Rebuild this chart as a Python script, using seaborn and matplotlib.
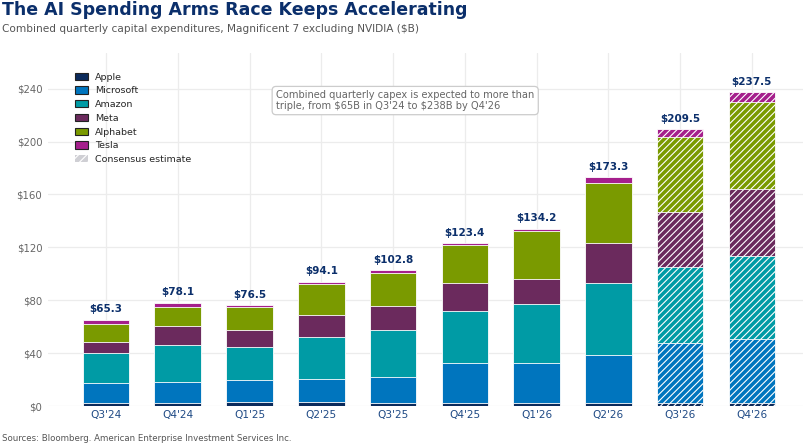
import numpy as np
import pandas as pd
import matplotlib
matplotlib.use('Agg')
import matplotlib.pyplot as plt
from matplotlib.patches import Patch
from matplotlib.ticker import FuncFormatter
import seaborn as sns

# Quarterly capex by company ($B)
quarters = ["Q3'24", "Q4'24", "Q1'25", "Q2'25", "Q3'25",
            "Q4'25", "Q1'26", "Q2'26", "Q3'26", "Q4'26"]
apple = [2.3, 2.5, 2.8, 3.3, 2.5, 2.0, 2.0, 2.0, 2.5, 2.5]
microsoft = [15.4, 15.4, 16.6, 16.9, 19.7, 30.3, 30.6, 36.4, 45.4, 48.5]
amazon = [22.2, 28.0, 25.3, 31.8, 35.3, 39.6, 44.9, 54.5, 57.1, 62.6]
meta = [8.5, 14.9, 12.8, 17.1, 18.5, 21.5, 18.9, 30.2, 42.1, 50.7]
alphabet = [13.7, 14.4, 17.2, 23.0, 24.4, 28.5, 36.1, 45.5, 56.0, 65.8]
tesla = [3.2, 2.9, 1.8, 2.0, 2.4, 1.5, 1.7, 4.7, 6.4, 7.4]
totals = [65.3, 78.1, 76.5, 94.1, 102.8, 123.4, 134.2, 173.3, 209.5, 237.5]
estimate_quarters = ["Q3'26", "Q4'26"]

companies = ['Apple', 'Microsoft', 'Amazon', 'Meta', 'Alphabet', 'Tesla']
series = [apple, microsoft, amazon, meta, alphabet, tesla]
colors = ['#0b2a5b', '#0075be', '#009ba5', '#6b2a5d', '#7a9a00', '#a51f8c']

navy = '#0b2f6b'

sns.set_style('whitegrid', {'grid.color': '#ececec', 'axes.edgecolor': 'white'})
plt.rcParams['font.family'] = ['DejaVu Sans']
plt.rcParams['hatch.color'] = 'white'
plt.rcParams['hatch.linewidth'] = 0.8

fig, ax = plt.subplots(figsize=(8.11, 4.45), dpi=100)
fig.subplots_adjust(left=0.059, right=0.99, top=0.881, bottom=0.0876)

# stacked bars: draw cumulative heights from the top layer down
cum = np.cumsum(np.array(series), axis=0)
for i in range(len(companies) - 1, -1, -1):
    sns.barplot(x=quarters, y=cum[i], color=colors[i], saturation=1,
                width=0.65, errorbar=None, ax=ax,
                edgecolor='white', linewidth=0.6)
    for patch, q in zip(ax.containers[-1], quarters):
        if q in estimate_quarters:
            patch.set_hatch('/////')

# total labels
for xi, t in enumerate(totals):
    ax.text(xi, t + 4, f'${t:.1f}', ha='center', va='bottom',
            fontsize=7.5, fontweight='bold', color=navy)

ax.set_xlim(-0.81, 9.71)
ax.set_ylim(0, 267)
ax.set_yticks([0, 40, 80, 120, 160, 200, 240])
ax.yaxis.set_major_formatter(FuncFormatter(lambda v, p: f'${v:.0f}'))
ax.tick_params(axis='y', labelsize=7.3, labelcolor='#666666', length=0, pad=4)
ax.tick_params(axis='x', labelsize=7.6, labelcolor='#1f4a85', length=0, pad=3)
ax.set_xlabel('')
ax.set_ylabel('')
ax.grid(True, axis='both', color='#ececec', linewidth=0.9)
ax.set_axisbelow(True)
sns.despine(ax=ax, left=True, bottom=True)

# legend
handles = [Patch(facecolor=c, edgecolor='#222222', linewidth=0.8, label=n)
           for n, c in zip(companies, colors)]
handles.append(Patch(facecolor='#cfcfd4', edgecolor='white', linewidth=0,
                     hatch='////', label='Consensus estimate'))
ax.legend(handles=handles, loc='upper left', bbox_to_anchor=(0.031, 0.955),
          frameon=False, fontsize=6.8, handlelength=1.35, handleheight=0.8,
          labelspacing=0.5, handletextpad=0.75, borderaxespad=0)

# annotation box
ax.text(2.37, 231, "Combined quarterly capex is expected to more than\n"
        "triple, from \\$65B in Q3'24 to \\$238B by Q4'26",
        fontsize=7.1, color='#666666', ha='left', va='center', linespacing=1.05,
        bbox=dict(boxstyle='round,pad=0.4', facecolor='white',
                  edgecolor='#cccccc', linewidth=0.9))

fig.text(0.002, 0.977, 'The AI Spending Arms Race Keeps Accelerating',
         fontsize=12.5, fontweight='bold', color=navy, ha='left', va='center')
fig.text(0.002, 0.935, 'Combined quarterly capital expenditures, Magnificent 7 excluding NVIDIA ($B)',
         fontsize=7.6, color='#555555', ha='left', va='center')
fig.text(0.002, 0.015, 'Sources: Bloomberg. American Enterprise Investment Services Inc.',
         fontsize=6.25, color='#555555', ha='left', va='center')

fig.savefig('out.png', dpi=100)
